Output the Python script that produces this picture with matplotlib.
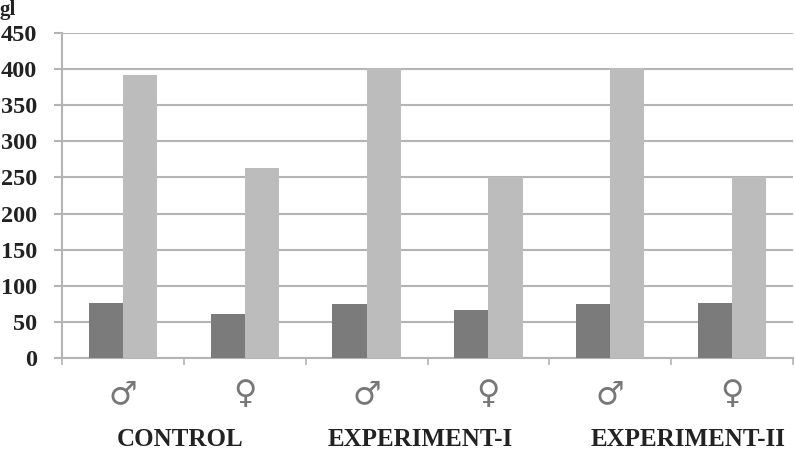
import matplotlib.pyplot as plt
import numpy as np

groups = ['CONTROL', 'EXPERIMENT-I', 'EXPERIMENT-II']
sexes = ['\u2642', '\u2640', '\u2642', '\u2640', '\u2642', '\u2640']
dark_vals = [76, 61, 75, 67, 75, 76]
light_vals = [392, 263, 402, 250, 402, 250]
yticks = [0, 50, 100, 150, 200, 250, 300, 350, 400, 450]

fig = plt.figure(figsize=(7.95, 4.65), dpi=100)
ax = fig.add_axes([0.078, 0.23, 0.9195, 0.699])

x = np.arange(len(sexes))
w = 0.28
ax.bar(x - w / 2, dark_vals, w, color='#7b7b7b', zorder=3)
ax.bar(x + w / 2, light_vals, w, color='#bcbcbc', zorder=3)

ax.set_xlim(-0.5, len(sexes) - 0.5)
ax.set_ylim(0, 450)
ax.set_yticks(yticks)
ax.set_yticklabels([str(v) for v in yticks], fontfamily='Liberation Serif',
                   fontweight='bold', fontsize=17.5, color='#222222')
ax.yaxis.grid(True, color='#b4b4b4', linewidth=1.5, zorder=0)
ax.tick_params(axis='y', length=6, width=1.5, color='#b4b4b4', pad=12)

ax.set_xticks(np.arange(len(sexes) + 1) - 0.5)
ax.set_xticklabels([])
ax.tick_params(axis='x', length=5, width=1.2, color='#b4b4b4')

for s in ['top', 'right']:
    ax.spines[s].set_visible(False)
for s in ['left', 'bottom']:
    ax.spines[s].set_color('#b4b4b4')
    ax.spines[s].set_linewidth(1.5)

for i, s in enumerate(sexes):
    ax.text(i, -50, s, ha='center', va='center', fontsize=23,
            fontfamily='DejaVu Sans', color='#777777')

group_x = [0.47, 2.44, 4.64]
for gx, g in zip(group_x, groups):
    ax.text(gx, -113, g, ha='center', va='center', fontsize=18,
            fontfamily='Liberation Serif', fontweight='bold', color='#222222')

fig.text(0.0, 1.0, 'gl', ha='left', va='top', fontsize=15,
         fontfamily='Liberation Serif', fontweight='bold', color='#222222')

fig.savefig('out.png', dpi=100, facecolor='white')
